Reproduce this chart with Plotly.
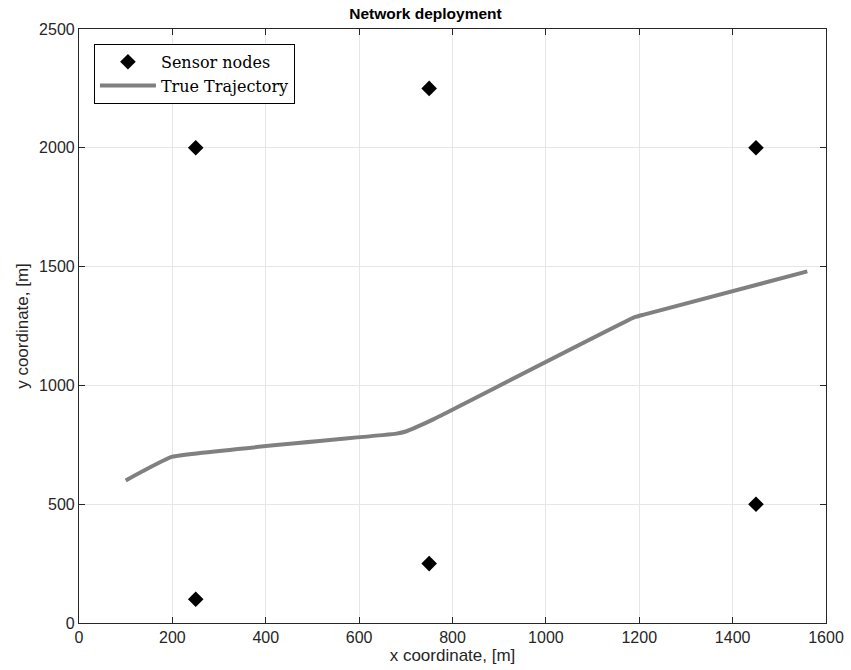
import plotly.graph_objects as go

# Sensor node positions [m]
sensor_x = [250, 750, 1450, 250, 750, 1450]
sensor_y = [2000, 2250, 2000, 100, 250, 500]

# True target trajectory [m]
traj_x = [100, 200, 680, 700, 720, 760, 1190, 1210, 1560]
traj_y = [600, 700, 797, 806, 822, 858, 1287, 1298, 1480]

x_ticks = [0, 200, 400, 600, 800, 1000, 1200, 1400, 1600]
y_ticks = [0, 500, 1000, 1500, 2000, 2500]

SANS = "Liberation Sans, Arial, Helvetica"

fig = go.Figure()
fig.add_trace(go.Scatter(
    x=sensor_x, y=sensor_y, mode="markers", name="Sensor nodes",
    marker=dict(symbol="diamond", size=12, color="black",
                line=dict(width=0)),
))
fig.add_trace(go.Scatter(
    x=traj_x, y=traj_y, mode="lines", name="True Trajectory",
    line=dict(color="#808080", width=4, shape="spline", smoothing=0.3),
))

axis_common = dict(
    showgrid=True, gridcolor="#e6e6e6", gridwidth=1,
    zeroline=False, showline=True, linecolor="#262626", linewidth=1.2,
    mirror="ticks", ticks="inside", ticklen=6, tickcolor="#262626",
    tickfont=dict(family=SANS, size=16, color="#262626"),
    automargin=False,
)

fig.update_layout(
    width=851, height=670,
    margin=dict(l=79, r=25, t=29, b=47),
    paper_bgcolor="white", plot_bgcolor="white",
    title=dict(text="<b>Network deployment</b>", x=0.5, xanchor="center",
               y=0.98, yanchor="middle",
               font=dict(family=SANS, size=15.5, color="black")),
    xaxis=dict(range=[0, 1600], tickvals=x_ticks,
               title=dict(text="x coordinate, [m]", standoff=1,
                          font=dict(family=SANS, size=17, color="#262626")),
               **axis_common),
    yaxis=dict(range=[0, 2500], tickvals=y_ticks,
               title=dict(text="y coordinate, [m]", standoff=6,
                          font=dict(family=SANS, size=17, color="#262626")),
               **axis_common),
    legend=dict(x=0.02, y=0.975, xanchor="left", yanchor="top",
                bgcolor="white", bordercolor="black", borderwidth=1,
                font=dict(family="DejaVu Serif, Liberation Serif", size=16, color="black"),
                tracegroupgap=0, itemwidth=56),
    showlegend=True,
)

fig.write_html("out.html")
